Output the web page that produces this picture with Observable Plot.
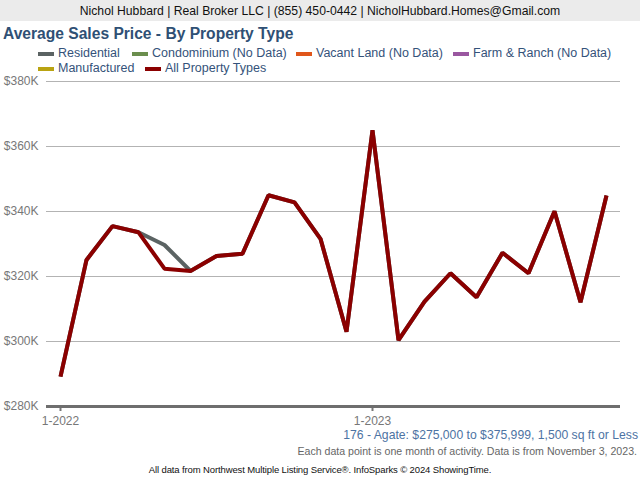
<!DOCTYPE html>
<html>
<head>
<meta charset="utf-8">
<script src="https://cdn.jsdelivr.net/npm/d3@7"></script>
<script src="https://cdn.jsdelivr.net/npm/@observablehq/plot@0.6"></script>
<style>
  html, body { margin: 0; padding: 0; background: #fff; }
  body { width: 640px; height: 480px; position: relative; overflow: hidden; font-family: "Liberation Sans", Arial, sans-serif; }
  .abs { position: absolute; white-space: nowrap; }
  #header { left: 0; top: 0; width: 640px; height: 21px; background: #ebebeb; color: #111; font-size: 12.2px; line-height: 22px; text-align: center; }
  #title { left: 3px; top: 25px; font-size: 15.6px; font-weight: bold; color: #2f5075; }
  .leg { font-size: 12.5px; color: #34527a; line-height: 15px; }
  .sw { position: absolute; width: 16px; height: 4px; }
  #chart { left: 0; top: 70px; }
  #f1 { right: 2px; top: 428px; font-size: 12.2px; line-height: 14px; color: #4d73a3; }
  #f2 { right: 3px; top: 445px; font-size: 10.6px; line-height: 13px; color: #666; }
  #f3 { left: 0; width: 640px; text-align: center; top: 464px; font-size: 9.5px; line-height: 12px; color: #111; letter-spacing: -0.12px; }
</style>
</head>
<body>
<div id="header" class="abs">Nichol Hubbard | Real Broker LLC | (855) 450-0442 | NicholHubbard.Homes@Gmail.com</div>
<div id="title" class="abs">Average Sales Price - By Property Type</div>
<div id="legend"></div>
<div id="chart" class="abs"></div>
<div id="f1" class="abs">176 - Agate: $275,000 to $375,999, 1,500 sq ft or Less</div>
<div id="f2" class="abs">Each data point is one month of activity. Data is from November 3, 2023.</div>
<div id="f3" class="abs">All data from Northwest Multiple Listing Service®. InfoSparks © 2024 ShowingTime.</div>
<script>
// ---- data ----
const months = ["2022-01","2022-02","2022-03","2022-04","2022-05","2022-06","2022-07","2022-08","2022-09","2022-10","2022-11","2022-12",
                "2023-01","2023-02","2023-03","2023-04","2023-05","2023-06","2023-07","2023-08","2023-09","2023-10"];
const allTypes = [289200,325100,335500,333600,322400,321700,326300,327000,345000,342800,331600,303000,
                  365000,300400,312300,321000,313600,327300,321000,340100,312100,344900];
const residential = [289200,325100,335500,333600,329700,321700,326300,327000,345000,342800,331600,303000,
                  365000,300400,312300,321000,313600,327300,321000,340100,312100,344900];
const yTicks = [280000,300000,320000,340000,360000,380000];
const xTickMonths = ["2022-01","2023-01"];
const xTickLabels = ["1-2022","1-2023"];
const legendNames = ["Residential","Condominium (No Data)","Vacant Land (No Data)","Farm & Ranch (No Data)","Manufactured","All Property Types"];
const legendColors = ["#5b6363","#6b8e4e","#e0561b","#9a57a0","#b9a312","#8b0000"];

// ---- legend ----
const legendPos = [[38,46],[132,46],[296,46],[453,46],[38,61],[145,61]];
const leg = document.getElementById("legend");
legendNames.forEach((n,i) => {
  const [x,y] = legendPos[i];
  const sw = document.createElement("div");
  sw.className = "sw"; sw.style.left = x+"px"; sw.style.top = (y+6)+"px"; sw.style.background = legendColors[i];
  leg.appendChild(sw);
  const t = document.createElement("div");
  t.className = "abs leg"; t.style.left = (x+20)+"px"; t.style.top = y+"px"; t.textContent = n;
  leg.appendChild(t);
});

// ---- chart ----
const rows = months.map((m,i) => ({month: m, all: allTypes[i], res: residential[i]}));
const chart = Plot.plot({
  width: 640,
  height: 358,
  marginTop: 11,
  marginBottom: 22,
  marginLeft: 46,
  marginRight: 20,
  style: {fontFamily: "Liberation Sans, Arial, sans-serif", fontSize: "12px", color: "#777", background: "transparent"},
  x: {type: "point", domain: months, padding: 0.5},
  y: {domain: [280000, 380000]},
  marks: [
    Plot.ruleY(yTicks.slice(1), {stroke: "#b3b3b3", strokeWidth: 1}),
    Plot.axisY({ticks: yTicks, tickSize: 0, tickPadding: 8, tickFormat: d => "$" + d/1000 + "K", fontSize: 12, label: null}),
    Plot.axisX({ticks: xTickMonths, tickSize: 5, tickPadding: 5, strokeWidth: 2, tickFormat: d => xTickLabels[xTickMonths.indexOf(d)], fontSize: 12, label: null}),
    Plot.ruleY([280000], {stroke: "#6e6e6e", strokeWidth: 3}),
    Plot.line(rows, {x: "month", y: "res", stroke: legendColors[0], strokeWidth: 4, strokeLinejoin: "miter", strokeLinecap: "butt"}),
    Plot.line(rows, {x: "month", y: "all", stroke: legendColors[5], strokeWidth: 4, strokeLinejoin: "miter", strokeLinecap: "butt"})
  ]
});
document.getElementById("chart").appendChild(chart);
</script>
</body>
</html>
